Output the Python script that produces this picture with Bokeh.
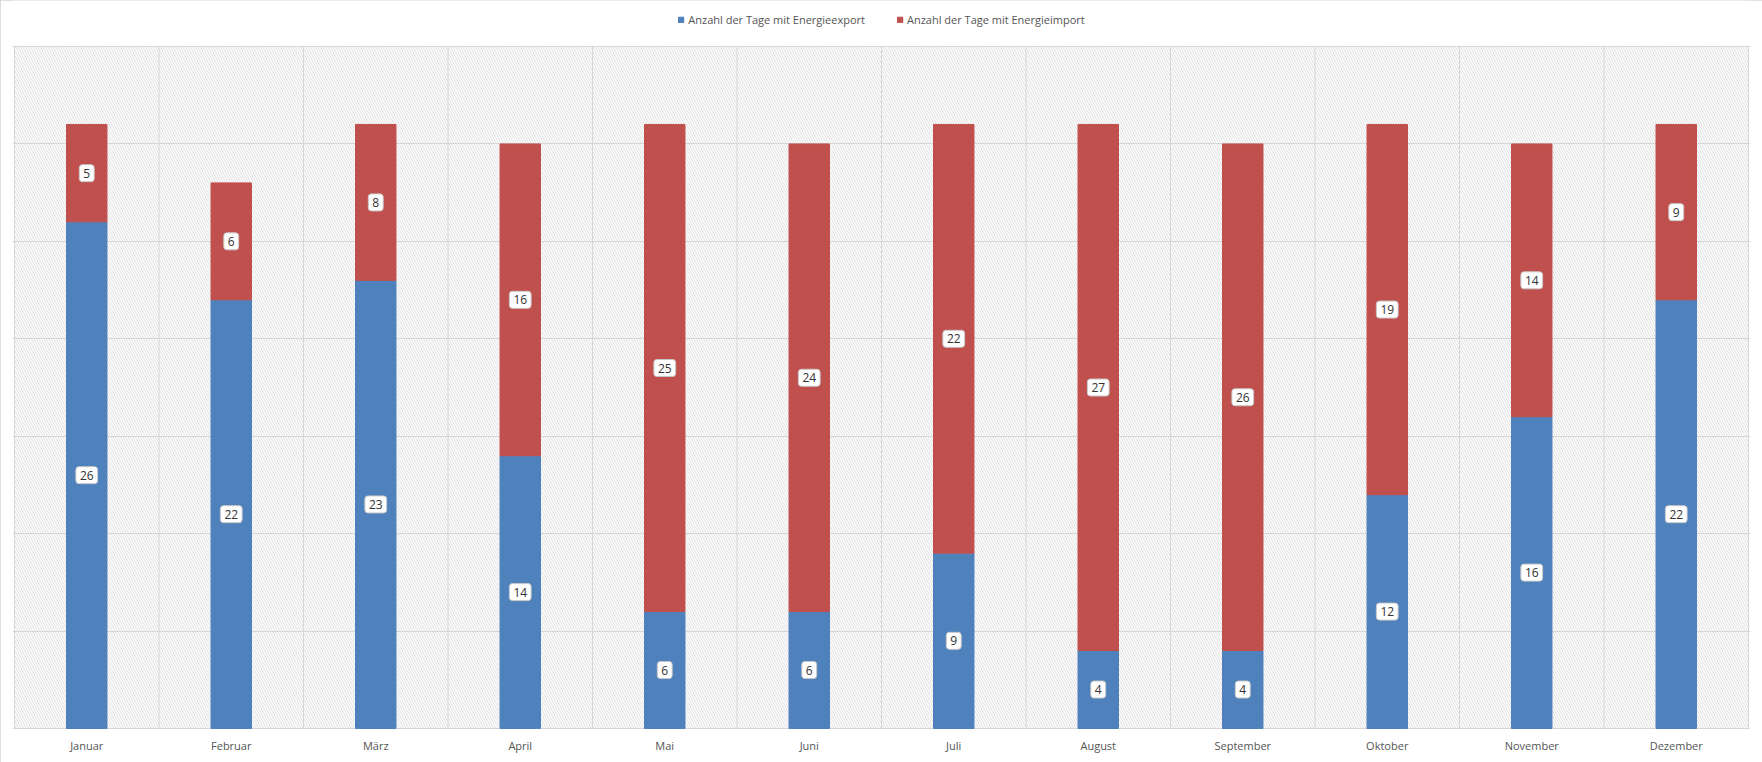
from bokeh.plotting import figure
from bokeh.models import ColumnDataSource, FixedTicker, BoxAnnotation, Legend, LegendItem, Range1d
from bokeh.core.properties import value
from bokeh.embed import file_html
from bokeh.resources import INLINE

months = ["Januar", "Februar", "März", "April", "Mai", "Juni", "Juli",
          "August", "September", "Oktober", "November", "Dezember"]
export_days = [26, 22, 23, 14, 6, 6, 9, 4, 4, 12, 16, 22]
import_days = [5, 6, 8, 16, 25, 24, 22, 27, 26, 19, 14, 9]
series_names = ["Anzahl der Tage mit Energieexport", "Anzahl der Tage mit Energieimport"]
y_ticks = [0, 5, 10, 15, 20, 25, 30, 35]

BLUE = "#4f81bd"
RED = "#c0504d"
GRID = "#d6d6d6"
FONT = "Open Sans"
TXT = "#555555"

n = len(months)
ymax = y_ticks[-1]
xs = [i + 0.5 for i in range(n)]
src = ColumnDataSource(dict(
    x=xs, month=months, export=export_days, imp=import_days,
    exp_mid=[e / 2 for e in export_days],
    imp_mid=[e + i / 2 for e, i in zip(export_days, import_days)],
    exp_lbl=[str(e) for e in export_days],
    imp_lbl=[str(i) for i in import_days],
))

# layout (pixels inside the figure)
W, H = 1762, 762
ML, MR, MT, MB = 12, 12, 0, 32
frame_w, frame_h = W - ML - MR, H - MT - MB
data_left, data_right = 14.0 - ML, 1748.0 - ML      # where x=0 and x=n fall in the frame
data_top, data_bottom = 46.0 - MT, 728.0 - MT       # where y=ymax and y=0 fall in the frame
kx = (data_right - data_left) / n
ky = (data_bottom - data_top) / ymax
x_range = Range1d(-data_left / kx, n + (frame_w - data_right) / kx)
y_range = Range1d(-(frame_h - data_bottom) / ky, ymax + data_top / ky)

p = figure(width=W, height=H, output_backend="svg", toolbar_location=None,
           x_range=x_range, y_range=y_range, y_axis_location=None,
           min_border_left=ML, min_border_right=MR, min_border_top=MT, min_border_bottom=MB)
p.outline_line_color = None
p.background_fill_color = "white"
p.stylesheets = [":host { outline: 1px solid #d4d4d4; outline-offset: -1px; }"]

hatch = BoxAnnotation(left=0, right=n, bottom=0, top=ymax, fill_alpha=0, line_color=None,
                      hatch_pattern="\\", hatch_color="#dedede", hatch_scale=5,
                      hatch_weight=1, level="image")
p.add_layout(hatch)

p.xgrid.visible = False
p.ygrid.ticker = FixedTicker(ticks=y_ticks)
p.ygrid.grid_line_color = GRID
p.ygrid.bounds = (0, n)
bounds_x = list(range(n + 1))
p.segment(x0=bounds_x, x1=bounds_x, y0=[0] * (n + 1), y1=[ymax] * (n + 1),
          line_color=GRID, line_width=1, level="underlay")

renderers = p.vbar_stack(["export", "imp"], x="x", width=0.28, color=[BLUE, RED], source=src)

for col, lbl in (("exp_mid", "exp_lbl"), ("imp_mid", "imp_lbl")):
    p.text(x="x", y=col, text=lbl, source=src, text_align="center", text_baseline="middle",
           text_font=value(FONT), text_font_size="12px", text_color="#333333",
           background_fill_color="white", border_line_color="#c8c8c8", border_line_width=1,
           padding=4, border_radius=3)

ax = p.xaxis[0]
ax.ticker = FixedTicker(ticks=xs)
ax.major_label_overrides = {x: m for x, m in zip(xs, months)}
ax.axis_line_color = None
ax.major_tick_line_color = None
ax.minor_tick_line_color = None
ax.major_tick_out = 0
ax.major_tick_in = 0
ax.major_label_standoff = 7
ax.major_label_text_font = FONT
ax.major_label_text_font_size = "11px"
ax.major_label_text_color = TXT

legend = Legend(items=[LegendItem(label=series_names[0], renderers=[renderers[0]]),
                       LegendItem(label=series_names[1], renderers=[renderers[1]])],
                orientation="horizontal", location="top_center",
                glyph_width=7, glyph_height=7, label_standoff=4, spacing=31,
                label_text_font=FONT, label_text_font_size="11px", label_text_color=TXT,
                border_line_color=None, background_fill_alpha=0, padding=0, margin=12,
                label_height=12)
p.add_layout(legend, "center")

open("out.html", "w").write(file_html(p, INLINE))
